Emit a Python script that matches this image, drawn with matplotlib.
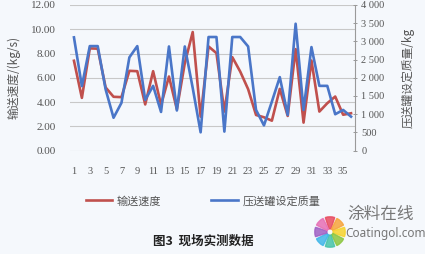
import matplotlib
matplotlib.use("Agg")
import matplotlib.pyplot as plt
from matplotlib.patches import Wedge

# ---- data ----
points = list(range(1, 37))
speed = [7.40, 4.34, 8.42, 8.40, 5.20, 4.43, 4.40, 6.57, 6.54, 3.80,
         6.54, 3.76, 6.10, 3.40, 7.20, 9.77, 2.79, 8.58, 8.03, 3.21,
         7.70, 6.51, 5.06, 2.93, 2.74, 2.46, 5.08, 2.85, 8.36, 2.30,
         7.42, 3.21, 3.90, 4.45, 2.95, 3.07]
mass = [3110, 1770, 2870, 2870, 1680, 900, 1310, 2560, 2870, 1390,
        1777, 1060, 2860, 1100, 2860, 1720, 500, 3120, 3120, 520,
        3120, 3120, 2860, 1116, 690, 1344, 2017, 978, 3485, 1115,
        2843, 1777, 1777, 997, 1115, 931]
xticks = list(range(1, 37, 2))
left_ticks = [0, 2, 4, 6, 8, 10, 12]
left_labels = ["0.00", "2.00", "4.00", "6.00", "8.00", "10.00", "12.00"]
right_ticks = [0, 500, 1000, 1500, 2000, 2500, 3000, 3500, 4000]
right_labels = ["0", "500", "1 000", "1 500", "2 000", "2 500", "3 000", "3 500", "4 000"]
label_speed = "输送速度"
label_mass = "压送罐设定质量"
ylabel_left = "输送速度/(kg/s)"
ylabel_right = "压送罐设定质量/kg"
caption = "图3  现场实测数据"
wm_cn = "涂料在线"
wm_en = "Coatingol.com"

CJK = ["Noto Sans CJK SC", "DejaVu Sans"]
SERIF = ["Liberation Serif", "DejaVu Serif"]
RED = "#c0504d"
BLUE = "#4a76c8"
BG = "#f5f8fc"
TXT = "#555555"

fig = plt.figure(figsize=(4.25, 2.54), dpi=100, facecolor=BG)
W, H = 425, 254
ax = fig.add_axes([70 / W, 1 - 150.5 / H, (355 - 70) / W, (150.5 - 5) / H])
ax.set_facecolor(BG)
ax2 = ax.twinx()

l1, = ax.plot(points, speed, color=RED, lw=1.9, label=label_speed)
l2, = ax2.plot(points, mass, color=BLUE, lw=1.9, label=label_mass)

ax.set_xlim(0.5, 36.5)
ax.set_ylim(0, 12)
ax2.set_ylim(0, 4000)
ax.set_yticks(left_ticks)
ax.set_yticklabels(left_labels, family=SERIF, fontsize=8, color=TXT)
ax2.set_yticks(right_ticks)
ax2.set_yticklabels(right_labels, family=SERIF, fontsize=7.5, color=TXT)
ax.set_xticks(xticks)
ax.set_xticklabels([str(t) for t in xticks], family=SERIF, fontsize=7.5, color=TXT)

ax.grid(axis="y", color="#c8c8c8", lw=0.8)
ax.set_axisbelow(True)
for a in (ax, ax2):
    for s in ("top", "left", "bottom", "right"):
        a.spines[s].set_visible(False)
ax2.spines["right"].set_visible(True)
ax2.spines["right"].set_color("#9a9a9a")
ax2.spines["right"].set_linewidth(0.8)
ax.tick_params(axis="x", length=0, pad=12)
ax.tick_params(axis="y", length=0, pad=10)
ax2.tick_params(axis="y", length=3, width=0.7, color="#9a9a9a", pad=3, direction="inout")

ax.set_ylabel(ylabel_left, family=CJK, fontsize=8.5, color=TXT, labelpad=8)
ax2.set_ylabel(ylabel_right, family=CJK, fontsize=8.5, color=TXT, rotation=90, labelpad=12)

# legend
fig.legend(handles=[l1, l2], labels=[label_speed, label_mass], loc="center",
           bbox_to_anchor=(203 / W, 1 - 201 / H), ncol=2, frameon=False,
           prop={"family": CJK, "size": 8}, handlelength=2.4, columnspacing=4.5,
           labelcolor=TXT, handletextpad=0.4)

fig.text(203 / W, 1 - 241 / H, caption, family=CJK, fontsize=9, fontweight="bold",
         ha="center", va="center", color="#222222")

# watermark: pinwheel logo + text
lax = fig.add_axes([314 / W, 1 - 250 / H, 32 / W, 36 / H])
lax.set_xlim(-1, 1)
lax.set_ylim(-1, 1)
lax.set_aspect("equal")
lax.axis("off")
petal_colors = ["#e84a5f", "#f7a43b", "#f6d32d", "#8cc63f", "#46c3a8", "#3fb6e8", "#a05fc4", "#e76fb5"]
for i, c in enumerate(petal_colors):
    lax.add_patch(Wedge((0, 0), 0.95, 90 - i * 45 - 18, 90 - i * 45 + 18, width=0.75,
                        color=c, alpha=0.85))
fig.text(347 / W, 1 - 214 / H, wm_cn, family=CJK, fontsize=12, color="#777777",
         ha="left", va="center")
fig.text(345 / W, 1 - 234 / H, wm_en, family=["Noto Sans", "DejaVu Sans"],
         fontsize=8.5, color="#777777", ha="left", va="center")

fig.savefig("out.png", dpi=100, facecolor=BG)
